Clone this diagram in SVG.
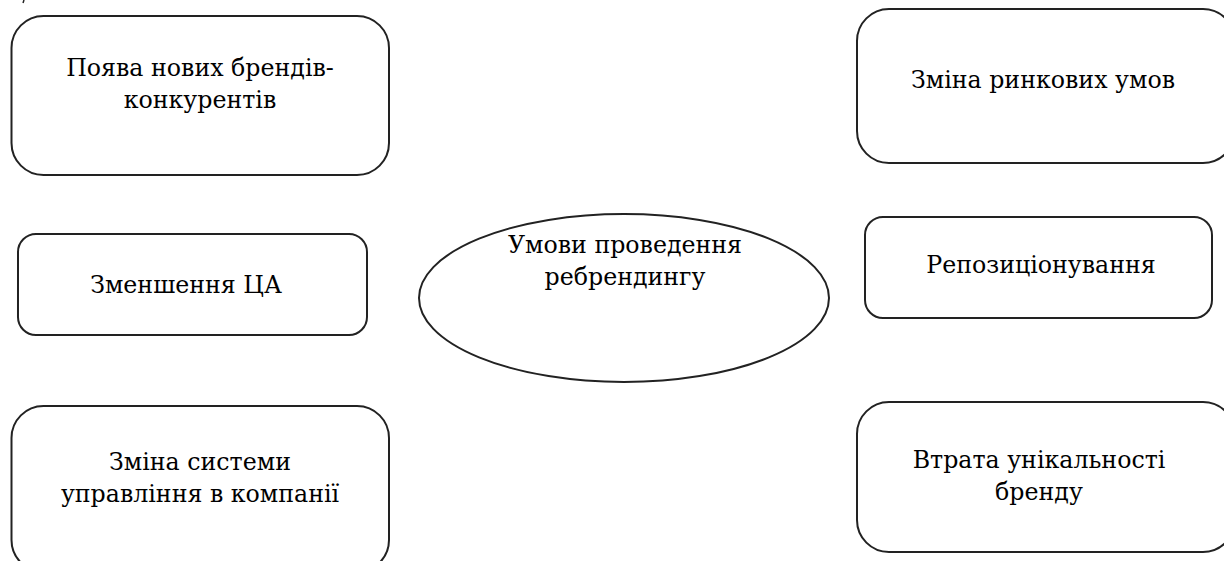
<svg xmlns="http://www.w3.org/2000/svg" width="1224" height="561" viewBox="0 0 1224 561">
  <style>
    .box { fill: #ffffff; stroke: #222222; stroke-width: 2; }
    .lbl { font-family: 'DejaVu Serif', 'Liberation Serif', serif; font-size: 23.7px; fill: #000000; text-anchor: middle; }
  </style>
  <rect width="1224" height="561" fill="#ffffff"/>

  <!-- stray stroke at the top edge -->
  <path d="M24 0 L23 3" stroke="#222222" stroke-width="1.5" fill="none"/>

  <g id="connectors"></g>

  <g id="node-competitors">
    <rect class="box" x="11.5" y="16" width="377.5" height="159" rx="32" ry="32"/>
    <text class="lbl" x="200" y="76">Поява нових брендів-</text>
    <text class="lbl" x="200" y="108">конкурентів</text>
  </g>

  <g id="node-market">
    <rect class="box" x="857" y="9" width="378" height="154" rx="32" ry="32"/>
    <text class="lbl" x="1043" y="88">Зміна ринкових умов</text>
  </g>

  <g id="node-audience">
    <rect class="box" x="18" y="234" width="349" height="101" rx="18" ry="18"/>
    <text class="lbl" x="186" y="293">Зменшення ЦА</text>
  </g>

  <g id="node-center">
    <ellipse class="box" cx="624" cy="298" rx="205" ry="84"/>
    <text class="lbl" x="625" y="253">Умови проведення</text>
    <text class="lbl" x="625" y="285">ребрендингу</text>
  </g>

  <g id="node-repositioning">
    <rect class="box" x="865" y="217" width="347" height="101" rx="18" ry="18"/>
    <text class="lbl" x="1041" y="273">Репозиціонування</text>
  </g>

  <g id="node-management">
    <rect class="box" x="11.5" y="406" width="377.5" height="166" rx="32" ry="32"/>
    <text class="lbl" x="200" y="470">Зміна системи</text>
    <text class="lbl" x="200" y="502">управління в компанії</text>
  </g>

  <g id="node-uniqueness">
    <rect class="box" x="857" y="402" width="378" height="150" rx="32" ry="32"/>
    <text class="lbl" x="1039" y="468">Втрата унікальності</text>
    <text class="lbl" x="1039" y="500">бренду</text>
  </g>
</svg>
